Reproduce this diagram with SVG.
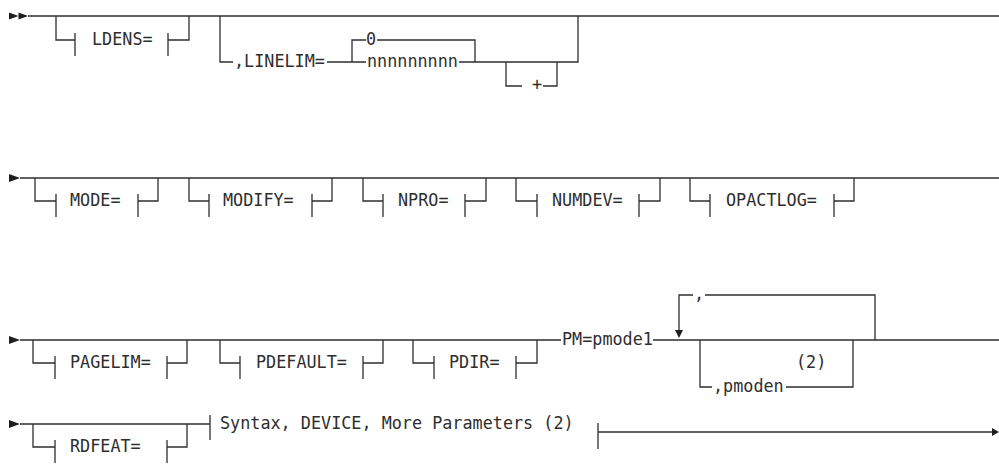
<svg xmlns="http://www.w3.org/2000/svg" width="999" height="469" viewBox="0 0 999 469">
<style>
.ln{stroke:#2e2e2e;stroke-width:1.3;fill:none}
.tk{stroke:#2e2e2e;stroke-width:1.3;fill:none}
.t{font-family:"DejaVu Sans Mono","Liberation Mono",monospace;font-size:16.8px;fill:#2e2e2e}
.ah{fill:#1e1e1e;stroke:none}
</style>
<rect width="999" height="469" fill="#ffffff"/>
<g id="connectors">
<!-- row 1 -->
<polygon class="ah" points="9,12.5 18.5,16 9,19.5"/>
<polygon class="ah" points="18.5,12.5 28,16 18.5,19.5"/>
<path class="ln" d="M28,16 H999"/>
<path class="ln" d="M56,16 V40 H75 M168,40 H189 V16"/>
<path class="ln" d="M220,16 V62 H233 M327,62 H366 M352,62 V40 H366 M377,40 H475 V62 M459,62 H578 V16 M506,62 V86 H522 M543,86 H557 V62"/>
<!-- row 2 -->
<polygon class="ah" points="9,174 20,178 9,182"/>
<path class="ln" d="M20,178 H999"/>
<path class="ln" d="M35,178 V201 H56 M138,201 H158 V178"/>
<path class="ln" d="M189,178 V201 H209 M312,201 H332 V178"/>
<path class="ln" d="M363,178 V201 H383 M465,201 H486 V178"/>
<path class="ln" d="M516,178 V201 H537 M639,201 H660 V178"/>
<path class="ln" d="M690,178 V201 H710 M834,201 H854 V178"/>
<!-- row 3 -->
<polygon class="ah" points="9,336 20,340 9,344"/>
<path class="ln" d="M20,340 H561 M653,340 H999"/>
<path class="ln" d="M33,340 V363 H55 M167,363 H187 V340"/>
<path class="ln" d="M220,340 V363 H240 M363,363 H383 V340"/>
<path class="ln" d="M413,340 V363 H434 M516,363 H537 V340"/>
<path class="ln" d="M875,340 V295 H705 M693,295 H679 V331"/>
<polygon class="ah" points="675,330 683,330 679,338"/>
<path class="ln" d="M700,340 V387 H712 M786,387 H853 V340"/>
<!-- row 4 -->
<polygon class="ah" points="9,420 20,424 9,428"/>
<path class="ln" d="M20,424 H210"/>
<path class="ln" d="M33,424 V447 H55 M167,447 H187 V424"/>
<path class="ln" d="M598,432 H993"/>
<polygon class="ah" points="992,428 999,432 992,436"/>
</g>
<g id="n-ldens"><path class="tk" d="M75,33 V56 M168,33 V56"/><text class="t" x="92" y="45">LDENS=</text></g>
<g id="n-linelim"><text class="t" x="234" y="67">,LINELIM=</text></g>
<g id="n-zero"><text class="t" x="366" y="45">0</text></g>
<g id="n-nnn"><text class="t" x="367" y="67">nnnnnnnnn</text></g>
<g id="n-plus"><text class="t" x="537" y="90" text-anchor="middle">+</text></g>
<g id="n-mode"><path class="tk" d="M56,194 V217 M138,194 V217"/><text class="t" x="70" y="206">MODE=</text></g>
<g id="n-modify"><path class="tk" d="M209,194 V217 M312,194 V217"/><text class="t" x="223" y="206">MODIFY=</text></g>
<g id="n-npro"><path class="tk" d="M383,194 V217 M465,194 V217"/><text class="t" x="398" y="206">NPRO=</text></g>
<g id="n-numdev"><path class="tk" d="M537,194 V217 M639,194 V217"/><text class="t" x="552" y="206">NUMDEV=</text></g>
<g id="n-opactlog"><path class="tk" d="M710,194 V217 M834,194 V217"/><text class="t" x="726" y="206">OPACTLOG=</text></g>
<g id="n-pagelim"><path class="tk" d="M55,356 V379 M167,356 V379"/><text class="t" x="70" y="368">PAGELIM=</text></g>
<g id="n-pdefault"><path class="tk" d="M240,356 V379 M363,356 V379"/><text class="t" x="256" y="368">PDEFAULT=</text></g>
<g id="n-pdir"><path class="tk" d="M434,356 V379 M516,356 V379"/><text class="t" x="449" y="368">PDIR=</text></g>
<g id="n-pm"><text class="t" x="562" y="345">PM=pmode1</text></g>
<g id="n-comma"><text class="t" x="699" y="300" text-anchor="middle">,</text></g>
<g id="n-pmoden"><text class="t" x="713" y="392">,pmoden</text><text class="t" x="796" y="368">(2)</text></g>
<g id="n-rdfeat"><path class="tk" d="M55,440 V463 M167,440 V463"/><text class="t" x="70" y="452">RDFEAT=</text></g>
<g id="n-syntax"><path class="tk" d="M210,415 V440 M598,423 V449"/><text class="t" x="220" y="429">Syntax, DEVICE, More Parameters (2)</text></g>
</svg>
